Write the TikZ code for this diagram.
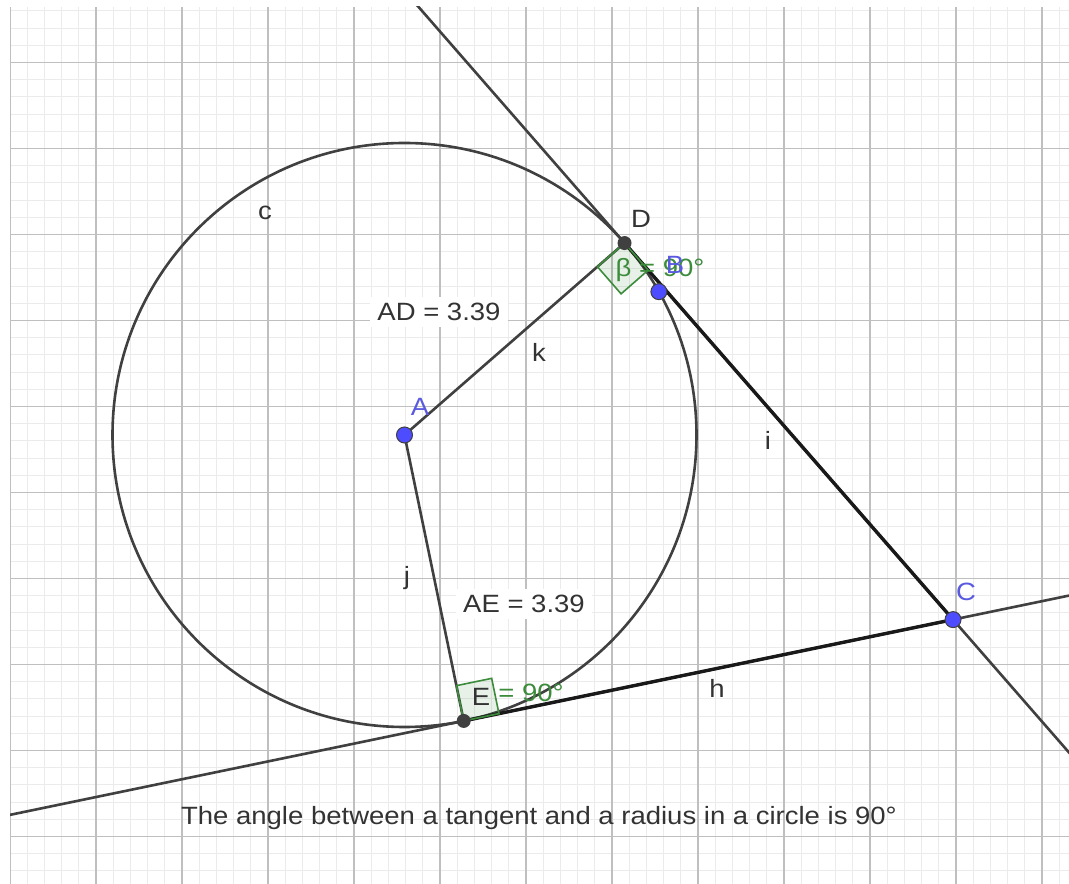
\documentclass[tikz,border=0pt]{standalone}
\usepackage{fontspec}
\setmainfont[FakeStretch=1.1]{Liberation Sans}
\usepackage{tikz}
\usetikzlibrary{positioning, calc}
\usepackage{xcolor}
\definecolor{ggblue}{RGB}{77, 77, 255}
\definecolor{ggtext}{RGB}{90, 90, 225}
\definecolor{gggreen}{RGB}{60, 140, 60}
\definecolor{ggdark}{RGB}{64, 64, 64}

\begin{document}
\begin{tikzpicture}[
        x=1pt, y=1pt,
        minorline/.style = {draw=black!8, line width=1pt},
        majorline/.style = {draw=black!25, line width=1.6pt},
        curve/.style = {draw=ggdark, line width=2.6pt},
        seg/.style = {draw=black!90, line width=3.4pt},
        lbl/.style = {font=\fontsize{25}{30}\selectfont, text=black!80, inner sep=1pt},
        ptlbl/.style = {lbl, text=ggtext},
        anglbl/.style = {lbl, text=gggreen},
        valbox/.style = {lbl, fill=white, inner xsep=7pt, inner ysep=6pt},
        freept/.style = {circle, fill=ggblue, draw=ggdark, line width=1pt, minimum size=16pt, inner sep=0pt},
        fixpt/.style = {circle, fill=ggdark, minimum size=14pt, inner sep=0pt},
        rightang/.style = {draw=gggreen, line width=1.6pt, fill=gggreen, fill opacity=0.12},
    ]
        \useasboundingbox (0,0) rectangle (1069,884);
        \fill[white] (0,0) rectangle (1069,884);
        \begin{scope}
            \clip (10,0) rectangle (1069,877);
            \foreach \i in {0,...,62} {
                \draw[minorline] ({10+17.2*\i},0) -- ({10+17.2*\i},877);
            }
            \foreach \i in {0,...,51} {
                \draw[minorline] (10,{-4.1+17.2*\i}) -- (1069,{-4.1+17.2*\i});
            }
            \foreach \i in {0,...,12} {
                \draw[majorline] ({10+86*\i},0) -- ({10+86*\i},877);
            }
            \foreach \i in {0,...,9} {
                \draw[majorline] (10,{47.5+86*\i}) -- (1069,{47.5+86*\i});
            }
        \end{scope}

        \coordinate (A) at (404.5,449);
        \coordinate (D) at ($(A)+(41.1:292)$);
        \coordinate (E) at ($(A)+(-78.3:292)$);
        \coordinate (B) at ($(A)+(29.4:292)$);
        \coordinate (C) at ($(A)+(-18.6:578.8)$);

        \draw[curve] (A) circle[radius=292];
        \begin{scope}
            \clip (10,0) rectangle (1069,877);
            \draw[curve] ($(C)!2!(D)$) -- ($(D)!1.5!(C)$);
            \draw[curve] ($(C)!2!(E)$) -- ($(E)!1.5!(C)$);
        \end{scope}

        \node[valbox] (ad) at (439,572) {AD = 3.39};
        \node[valbox] (ae) at (524,280) {AE = 3.39};

        \draw[curve] (A) -- (D);
        \draw[curve] (A) -- (E);
        \draw[seg] (D) -- (C);
        \draw[seg] (E) -- (C);

        \coordinate (dA) at ($(D)!36pt!(A)$);
        \coordinate (dC) at ($(D)!36pt!(C)$);
        \draw[rightang] (D) -- (dA) -- ($(dA)+(dC)-(D)$) -- (dC) -- cycle;
        \coordinate (eA) at ($(E)!36pt!(A)$);
        \coordinate (eC) at ($(E)!36pt!(C)$);
        \draw[rightang] (E) -- (eA) -- ($(eA)+(eC)-(E)$) -- (eC) -- cycle;

        \node[anglbl] (beta) at (660,614) {β = 90°};
        \node[anglbl] (eps) at (531,191) {= 90°};

        \node[fixpt] (pD) at (D) {};
        \node[fixpt] (pE) at (E) {};
        \node[freept] (pA) at (A) {};
        \node[freept] (pB) at (B) {};
        \node[freept] (pC) at (C) {};

        \node[lbl] (lblc) at (265,671) {c};
        \node[lbl] (lblD) at (641,665) {D};
        \node[ptlbl] (lblB) at (675,619) {B};
        \node[lbl] (lblk) at (539,532) {k};
        \node[ptlbl] (lblA) at (420,477) {A};
        \node[lbl] (lbli) at (768,444) {i};
        \node[lbl] (lblj) at (407,306) {j};
        \node[lbl] (lblE) at (481,187) {E};
        \node[ptlbl] (lblC) at (966,292) {C};
        \node[lbl] (lblh) at (717,196) {h};
        \node[lbl] (caption) at (539,66) {The angle between a tangent and a radius in a circle is 90°};
    \end{tikzpicture}
\end{document}
